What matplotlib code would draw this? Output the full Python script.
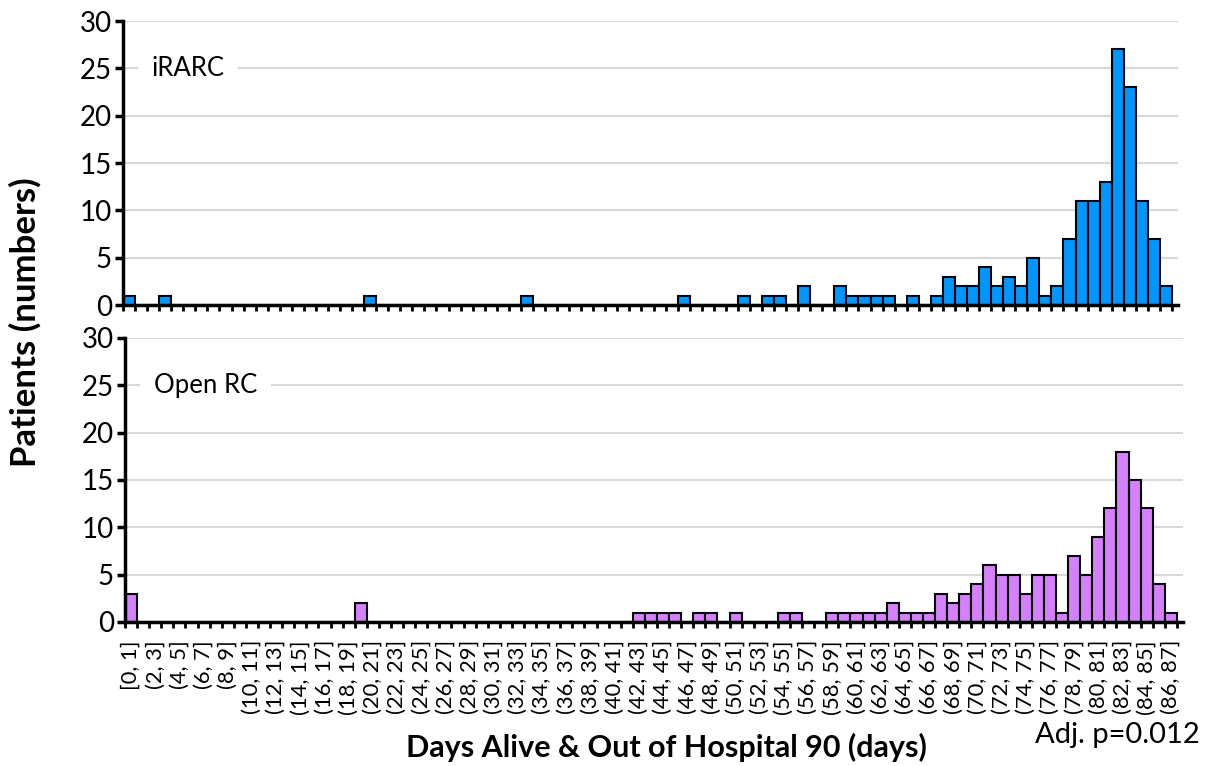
import matplotlib
matplotlib.use("Agg")
import matplotlib.pyplot as plt
import numpy as np

plt.rcParams['font.family'] = ['Lato', 'DejaVu Sans']

# Bin labels: [0, 1], (1, 2], ..., (86, 87]
bin_lo = list(range(0, 87))
bin_labels = ["[0, 1]"] + [f"({a}, {a+1}]" for a in bin_lo[1:]]

irarc_counts = [
    1, 0, 0, 1, 0, 0, 0, 0, 0, 0,
    0, 0, 0, 0, 0, 0, 0, 0, 0, 0,
    1, 0, 0, 0, 0, 0, 0, 0, 0, 0,
    0, 0, 0, 1, 0, 0, 0, 0, 0, 0,
    0, 0, 0, 0, 0, 0, 1, 0, 0, 0,
    0, 1, 0, 1, 1, 0, 2, 0, 0, 2,
    1, 1, 1, 1, 0, 1, 0, 1, 3, 2,
    2, 4, 2, 3, 2, 5, 1, 2, 7, 11,
    11, 13, 27, 23, 11, 7, 2,
]

open_counts = [
    3, 0, 0, 0, 0, 0, 0, 0, 0, 0,
    0, 0, 0, 0, 0, 0, 0, 0, 0, 2,
    0, 0, 0, 0, 0, 0, 0, 0, 0, 0,
    0, 0, 0, 0, 0, 0, 0, 0, 0, 0,
    0, 0, 1, 1, 1, 1, 0, 1, 1, 0,
    1, 0, 0, 0, 1, 1, 0, 0, 1, 1,
    1, 1, 1, 2, 1, 1, 1, 3, 2, 3,
    4, 6, 5, 5, 3, 5, 5, 1, 7, 5,
    9, 12, 18, 15, 12, 4, 1,
]

panel_names = ["iRARC", "Open RC"]
panel_colors = ["#0096FF", "#D580FF"]
y_ticks = [0, 5, 10, 15, 20, 25, 30]

W, H = 1209, 766
fig = plt.figure(figsize=(W / 100, H / 100), dpi=100)

def frac(x0, y_top, x1, y_bot):
    return [x0 / W, 1 - y_bot / H, (x1 - x0) / W, (y_bot - y_top) / H]

ax_top = fig.add_axes(frac(123, 21, 1178, 305))
ax_bot = fig.add_axes(frac(125, 338, 1183, 622))

nbins = len(bin_labels)
for ax, counts, name, color in [
    (ax_top, irarc_counts, panel_names[0], panel_colors[0]),
    (ax_bot, open_counts, panel_names[1], panel_colors[1]),
]:
    ax.bar(np.arange(nbins), counts, width=1.0, align='edge',
           color=color, edgecolor='black', linewidth=1.5, zorder=3)
    ax.set_xlim(0, nbins + 0.5)
    ax.set_ylim(0, 30)
    ax.set_yticks(y_ticks)
    ax.yaxis.grid(True, color='#d9d9d9', linewidth=1.5, zorder=0)
    ax.set_axisbelow(True)
    for s in ['top', 'right']:
        ax.spines[s].set_visible(False)
    for s in ['left', 'bottom']:
        ax.spines[s].set_linewidth(2.5)
        ax.spines[s].set_zorder(4)
    ax.tick_params(axis='y', direction='out', length=6, width=2.5,
                   labelsize=20, pad=2)
    # bin-edge ticks
    ax.set_xticks(np.arange(0, nbins + 1), minor=True)
    ax.tick_params(axis='x', which='minor', direction='out', length=4,
                   width=2, color='black')
    ax.set_xticks(np.arange(0, nbins, 2) + 0.5)
    ax.tick_params(axis='x', which='major', length=0)
    if ax is ax_bot:
        ax.set_xticklabels([bin_labels[i] for i in range(0, nbins, 2)],
                           rotation=90, fontsize=15.8)
        ax.tick_params(axis='x', which='major', pad=13)
    else:
        ax.set_xticklabels([])
    ax.text(0.027, 25, name, fontsize=18.5, va='center', ha='left',
            transform=ax.get_yaxis_transform(), zorder=5,
            bbox=dict(facecolor='white', edgecolor='none', pad=10))

fig.text(25 / W, 1 - 322 / H, "Patients (numbers)", rotation=90,
         fontsize=25, fontweight='bold', ha='center', va='center')
fig.text(666 / W, 1 - 747 / H, "Days Alive & Out of Hospital 90 (days)",
         fontsize=22, fontweight='bold', ha='center', va='center')
fig.text(1117 / W, 1 - 735 / H, "Adj. p=0.012", fontsize=21,
         ha='center', va='center')

fig.savefig("out.png", dpi=100)
